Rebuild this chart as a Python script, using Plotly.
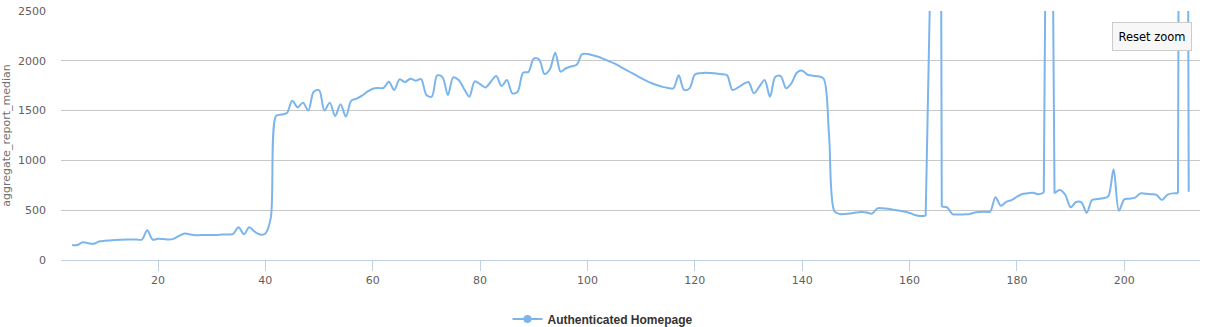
import plotly.graph_objects as go

# ---- data -------------------------------------------------------------
days = list(range(4, 213))

median_values = [
    150, 150, 178, 168, 162, 186, 193, 197, 202, 204,            # 4-13
    205, 206, 206, 205, 298, 204, 214, 210, 205, 215,            # 14-23
    245, 265, 257, 249, 250, 250, 250, 252, 255, 257,            # 24-33
    262, 328, 258, 328, 285, 255, 265, 420, 1446, 1460,          # 34-43
    1475, 1600, 1533, 1580, 1500, 1690, 1705, 1500, 1580, 1446,  # 44-53
    1563, 1440, 1600, 1620, 1650, 1690, 1720, 1727, 1727, 1790,  # 54-63
    1707, 1814, 1787, 1820, 1800, 1817, 1657, 1640, 1854, 1834,  # 64-73
    1657, 1834, 1807, 1720, 1640, 1794, 1765, 1733, 1790, 1847,  # 74-83
    1747, 1807, 1673, 1690, 1881, 1888, 2021, 2014, 1867, 1915,  # 84-93
    2082, 1891, 1925, 1945, 1960, 2068, 2068, 2055, 2040, 2018,  # 94-103
    1995, 1975, 1945, 1915, 1885, 1855, 1825, 1798, 1775, 1755,  # 104-113
    1738, 1728, 1723, 1854, 1707, 1723, 1862, 1876, 1881, 1877,  # 114-123
    1872, 1866, 1854, 1707, 1730, 1765, 1787, 1673, 1740, 1807,  # 124-133
    1640, 1840, 1847, 1725, 1775, 1880, 1901, 1860, 1850, 1845,  # 134-143
    1820, 1250, 490, 462, 462, 468, 476, 482, 478, 466,          # 144-153
    519, 519, 514, 505, 496, 486, 472, 452, 442, 445,            # 154-163
    3200, 20000, 535, 529, 460, 457, 458, 460, 474, 481,         # 164-173
    484, 486, 630, 545, 584, 602, 635, 663, 670, 676,            # 174-183
    660, 676, 8000, 669, 703, 655, 529, 582, 579, 475,           # 184-193
    602, 612, 620, 638, 910, 495, 609, 615, 626, 669,            # 194-203
    665, 660, 653, 602, 655, 669, 669, 20000, 686,               # 204-212
]

# days around the off-scale outliers (drawn as straight steep strokes)
spike_spans = [(163, 166), (185, 187), (210, 212)]

series_name = "Authenticated Homepage"
y_title = "aggregate_report_median"
x_ticks = [20, 40, 60, 80, 100, 120, 140, 160, 180, 200]
y_ticks = [0, 500, 1000, 1500, 2000, 2500]

# ---- figure -----------------------------------------------------------
LINE_COLOR = "#7cb5ec"
FONT = "DejaVu Sans"

pieces = []
start = days[0]
for a, b in spike_spans:
    pieces.append((start, a, "spline"))
    pieces.append((a, b, "linear"))
    start = b
if start < days[-1]:
    pieces.append((start, days[-1], "spline"))

fig = go.Figure()
for a, b, shape in pieces:
    i0, i1 = days.index(a), days.index(b)
    line = dict(color=LINE_COLOR, width=2, shape=shape)
    if shape == "spline":
        line["smoothing"] = 0.9
    fig.add_trace(go.Scatter(
        x=days[i0:i1 + 1], y=median_values[i0:i1 + 1], mode="lines",
        line=line, showlegend=False, legendgroup="s", hoverinfo="x+y",
    ))

# legend entry (line + marker symbol, like the original legend)
fig.add_trace(go.Scatter(
    x=[None], y=[None], mode="lines+markers", name=series_name,
    legendgroup="s",
    line=dict(color=LINE_COLOR, width=2),
    marker=dict(color=LINE_COLOR, size=8),
))

fig.update_layout(
    width=1206, height=327,
    margin=dict(l=61, r=6, t=11, b=67, autoexpand=False),
    paper_bgcolor="white", plot_bgcolor="white",
    font=dict(family=FONT, size=11, color="#606060"),
    showlegend=True,
    legend=dict(
        orientation="h", xref="container", yref="container",
        x=0.5, xanchor="center", y=1 - 319 / 327, yanchor="middle",
        font=dict(family="Liberation Sans", size=12, color="#333333",
                  weight="bold"),
        itemwidth=30,
    ),
    xaxis=dict(
        range=[1.93, 214.1], automargin=False,
        tickvals=x_ticks,
        showgrid=False, zeroline=False,
        showline=True, linecolor="#C0D0E0", linewidth=1,
        ticks="outside", ticklen=10, tickcolor="#C0D0E0", tickwidth=1,
        tickfont=dict(family=FONT, size=11, color="#606060"),
    ),
    yaxis=dict(
        range=[0, 2500], automargin=False,
        tickvals=y_ticks,
        showgrid=True, gridcolor="#C8C8C8", gridwidth=1,
        zeroline=False, showline=False,
        ticks="", ticklabelstandoff=14,
        tickfont=dict(family=FONT, size=11, color="#606060"),
        title=dict(text=y_title, standoff=8,
                   font=dict(family=FONT, size=11, color="#707070")),
    ),
    annotations=[dict(
        text="Reset zoom", xref="paper", yref="paper",
        x=0.958, y=0.898, xanchor="center", yanchor="middle",
        showarrow=False, width=70, height=19, borderpad=4,
        bgcolor="#f7f7f7", bordercolor="#cccccc", borderwidth=1,
        font=dict(family=FONT, size=11.5, color="#000000"),
    )],
)

fig.write_html("out.html")
